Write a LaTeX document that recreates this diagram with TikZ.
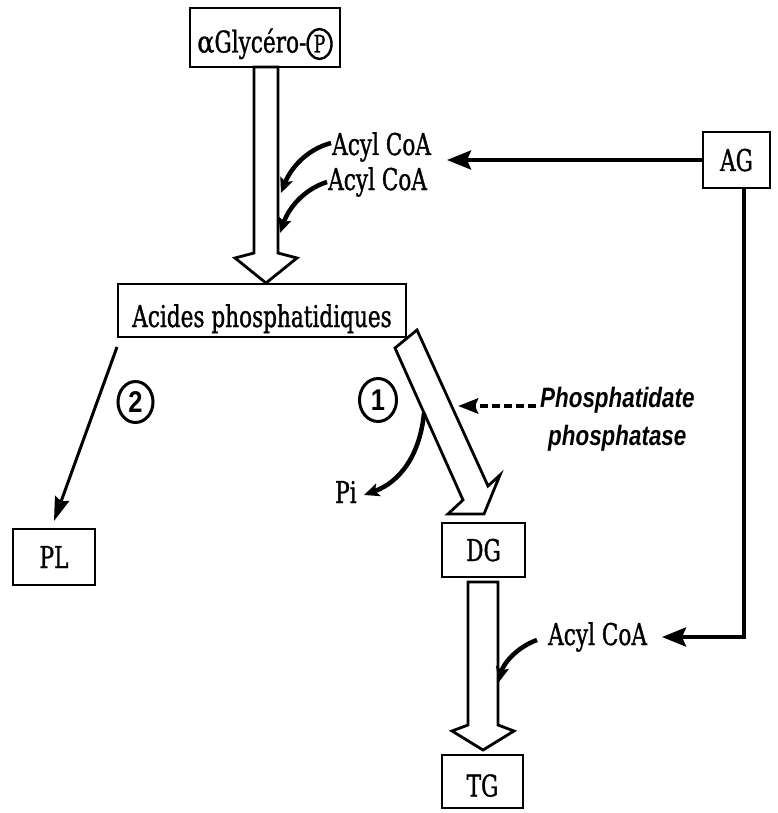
\documentclass[tikz,border=0pt]{standalone}
\usepackage{fontspec}
\usetikzlibrary{arrows.meta,shapes.geometric}
\newfontfamily\condrm{DejaVu Serif}[FakeStretch=0.72,FakeBold=1]
\newfontfamily\greekfont{DejaVu Serif}[FakeStretch=0.85,FakeBold=1]
\newfontfamily\enzfont{Liberation Sans}[FakeStretch=0.8]
\newfontfamily\numfont{Liberation Sans}[FakeStretch=0.85]
\newcommand{\circP}{\tikz[baseline=(cp.base)]\node[ellipse,draw,line width=2.4pt,inner sep=0pt,minimum width=24pt,minimum height=30pt,text height=17pt,text depth=0pt](cp){\condrm\fontsize{24}{24}\selectfont P};}
\tikzset{
  box/.style={draw, line width=2.8pt, rectangle, inner sep=0pt,
    font=\condrm\fontsize{30}{34}\selectfont, text height=22pt, text depth=0pt},
  lbl/.style={inner sep=0pt, anchor=base west, font=\condrm\fontsize{30}{34}\selectfont},
  enz/.style={inner sep=0pt, anchor=base west, font=\enzfont\bfseries\itshape\fontsize{28}{30}\selectfont},
  num/.style={ellipse, draw, line width=3pt, inner sep=0pt, font=\numfont\bfseries\fontsize{30}{30}\selectfont, text height=21pt, text depth=0pt},
  conn/.style={line width=4pt, -{Stealth[length=24pt,width=19pt,inset=4pt]}},
  thin/.style={line width=3pt, -{Stealth[length=24pt,width=15pt,inset=3pt]}},
  curv/.style={line width=4.5pt, -{Stealth[length=15pt,width=13pt,inset=3pt]}},
  hollow/.style={draw, fill=white, line width=2.8pt, line join=miter}
}
\begin{document}
\begin{tikzpicture}[x=1pt,y=-1pt]
\useasboundingbox (0,0) rectangle (777,813);
% boxes
\node[box, minimum width=150pt, minimum height=59pt, text height=30pt] (glyc) at (265,37.5)
  {{\greekfont α}Glycéro-\circP};
\node[box, minimum width=288pt, minimum height=53pt, text height=33pt] (acides) at (262,310.5) {Acides phosphatidiques};
\node[box, minimum width=82pt, minimum height=56pt] (PL) at (54,557) {PL};
\node[box, minimum width=83pt, minimum height=54pt] (DG) at (483.5,550) {DG};
\node[box, minimum width=81pt, minimum height=53pt, text height=30pt] (TG) at (482.5,781.5) {TG};
\node[box, minimum width=67pt, minimum height=56pt] (AG) at (736.5,160) {AG};
% labels
\node[lbl] (acyl1) at (332,155) {Acyl CoA};
\node[lbl] (acyl2) at (328,190) {Acyl CoA};
\node[lbl] (acyl3) at (548,645) {Acyl CoA};
\node[lbl] (Pi) at (335,503) {Pi};
\node[enz] (enz1) at (540,407) {Phosphatidate};
\node[enz] (enz2) at (548,445) {phosphatase};
\node[num, minimum width=35pt, minimum height=41pt] (c2) at (135.5,402) {2};
\node[num, minimum width=37pt, minimum height=43pt] (c1) at (378,400) {1};
% hollow arrows
\draw[hollow] (254,67) -- (254,253) -- (235,258) -- (266,283) -- (297,258) -- (278,253) -- (278,67) -- cycle;
\draw[hollow] (417,330) -- (488,486) -- (500,475) -- (484,514) -- (448,514) -- (463,500) -- (395,348) -- cycle;
\draw[hollow] (468,582) -- (468,725) -- (452,731) -- (483,750) -- (514,731) -- (498,725) -- (498,582) -- cycle;
% coordinates
\coordinate (agTip) at (447,160);
\coordinate (corner) at (744,637);
\coordinate (ag3Tip) at (662,637);
\coordinate (plStart) at (117,347);
\coordinate (plTip) at (54,521);
\coordinate (dashStart) at (536,406);
\coordinate (dashTip) at (458,406);
\coordinate (a1s) at (331,143);
\coordinate (a1e) at (281,193);
\coordinate (a2s) at (327,182);
\coordinate (a2e) at (280,233);
\coordinate (a3s) at (537,640);
\coordinate (a3e) at (499,682);
\coordinate (pis) at (424,413);
\coordinate (pie) at (364,495);
% connectors
\draw[conn] (AG.west) -- (agTip);
\draw[conn] (AG.south -| corner) -- (corner) -- (ag3Tip);
\draw[thin] (plStart) -- (plTip);
\draw[line width=4.5pt, dash pattern=on 8pt off 4pt, -{Stealth[length=20pt,width=15pt,inset=3pt]}] (dashStart) -- (dashTip);
\draw[curv] (a1s) .. controls (305,150) and (290,170) .. (a1e);
\draw[curv] (a2s) .. controls (302,190) and (288,210) .. (a2e);
\draw[curv] (a3s) .. controls (515,648) and (503,665) .. (a3e);
\draw[curv] (pis) .. controls (420,455) and (400,482) .. (pie);
\end{tikzpicture}
\end{document}
